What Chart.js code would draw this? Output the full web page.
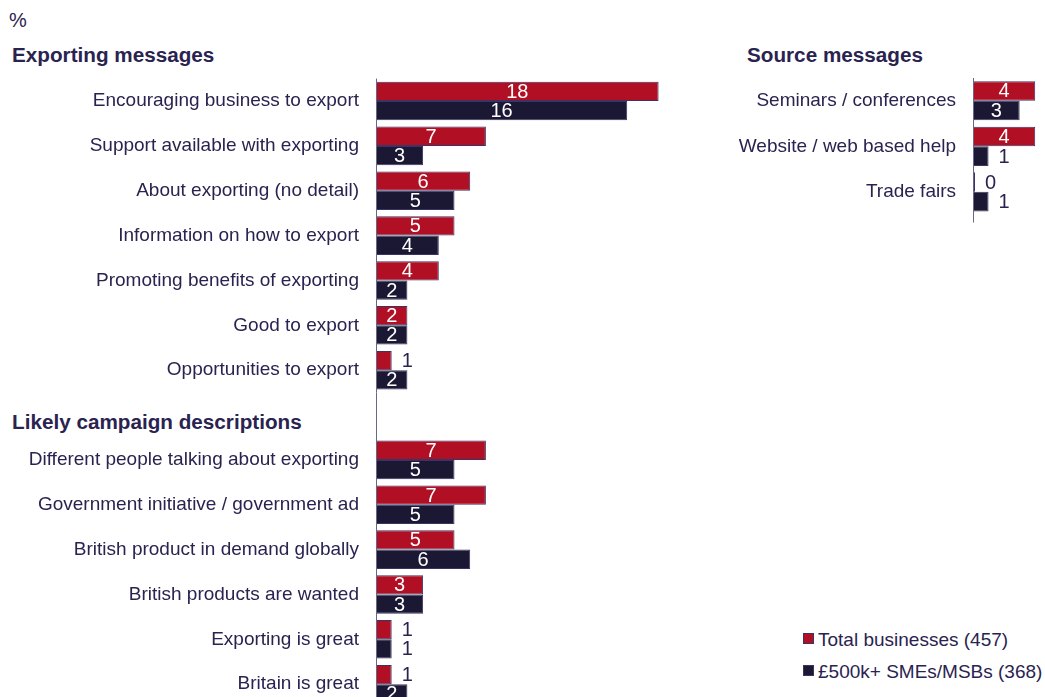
<!DOCTYPE html>
<html>
<head>
<meta charset="utf-8">
<script src="https://cdn.jsdelivr.net/npm/chart.js@4.4.1/dist/chart.umd.min.js"></script>
<style>
  html, body { margin: 0; padding: 0; background: #fff; overflow: hidden; }
  body { width: 1045px; height: 697px; position: relative; font-family: "Liberation Sans", Arial, sans-serif; color: #2a2350; }
  .txt { position: absolute; white-space: nowrap; line-height: 1; }
  .head { font-weight: bold; font-size: 20.7px; }
  #chart-left { position: absolute; left: 0; top: 0; }
  #chart-right { position: absolute; left: 720px; top: 0; }
  .legend-item { position: absolute; left: 803px; font-size: 19px; line-height: 1; white-space: nowrap; }
  .legend-item .box { display: inline-block; width: 9px; height: 9px; border: 1px solid #3b3366; margin-right: 4px; vertical-align: 2px; }
</style>
</head>
<body>

<div class="txt" style="left:9px; top:10px; font-size:20px;">%</div>
<div class="txt head" style="left:12px; top:45px;">Exporting messages</div>
<div class="txt head" style="left:12px; top:412px;">Likely campaign descriptions</div>
<div class="txt head" style="left:747px; top:45px;">Source messages</div>

<canvas id="chart-left" width="700" height="735"></canvas>
<canvas id="chart-right" width="325" height="243"></canvas>
<div id="legend"></div>

<script>
// ---- data ----
const exportCats = [
  'Encouraging business to export',
  'Support available with exporting',
  'About exporting (no detail)',
  'Information on how to export',
  'Promoting benefits of exporting',
  'Good to export',
  'Opportunities to export'
];
const campaignCats = [
  'Different people talking about exporting',
  'Government initiative / government ad',
  'British product in demand globally',
  'British products are wanted',
  'Exporting is great',
  'Britain is great'
];
const sourceCats = ['Seminars / conferences', 'Website / web based help', 'Trade fairs'];

const totalExport = [18, 7, 6, 5, 4, 2, 1];
const smeExport = [16, 3, 5, 4, 2, 2, 2];
const totalCampaign = [7, 7, 5, 3, 1, 1];
const smeCampaign = [5, 5, 6, 3, 1, 2];
const totalSource = [4, 4, 0];
const smeSource = [3, 1, 1];

const seriesNames = ['Total businesses (457)', '£500k+ SMEs/MSBs (368)'];
const seriesColors = ['#b00f24', '#1b1833'];

const TEXT = '#2a2350';
const FONT = '"Liberation Sans", Arial, sans-serif';

// numbers on the bars: white inside, dark just past the end for tiny bars
const valueLabels = {
  id: 'valueLabels',
  afterDatasetsDraw(chart) {
    const ctx = chart.ctx;
    ctx.save();
    ctx.font = '20px ' + FONT;
    ctx.textBaseline = 'middle';
    chart.data.datasets.forEach((ds, i) => {
      chart.getDatasetMeta(i).data.forEach((bar, j) => {
        const v = ds.data[j];
        if (v === null || v === undefined) return;
        if (v >= 2) {
          ctx.fillStyle = '#fff';
          ctx.textAlign = 'center';
          ctx.fillText(v, (bar.x + bar.base) / 2, bar.y + 1);
        } else {
          ctx.fillStyle = TEXT;
          ctx.textAlign = 'left';
          ctx.fillText(v, bar.x + 10, bar.y + 1);
        }
      });
    });
    ctx.restore();
  }
};

// vertical axis line at zero
const axisLine = {
  id: 'axisLine',
  afterDraw(chart, args, opts) {
    const { ctx, chartArea } = chart;
    ctx.save();
    ctx.strokeStyle = '#6a6688';
    ctx.lineWidth = 1;
    ctx.beginPath();
    ctx.moveTo(chartArea.left + 0.5, chartArea.top);
    ctx.lineTo(chartArea.left + 0.5, chartArea.bottom + (opts.extra || 0));
    ctx.stroke();
    ctx.restore();
  }
};

function makeDatasets(a, b) {
  return [a, b].map((d, i) => ({
    label: seriesNames[i],
    data: d,
    backgroundColor: seriesColors[i],
    borderColor: '#3b3366',
    borderWidth: 1,
    minBarLength: 2,
    categoryPercentage: 0.86,
    barPercentage: 1
  }));
}

function barOptions(axisWidth, xMax, padding, extra) {
  return {
    indexAxis: 'y',
    responsive: false,
    animation: false,
    layout: { padding },
    scales: {
      x: { display: false, min: 0, max: xMax },
      y: {
        afterFit: s => { s.width = axisWidth; },
        border: { display: false },
        grid: { display: false, drawTicks: false },
        ticks: { color: TEXT, font: { family: FONT, size: 19 }, padding: 17, autoSkip: false }
      }
    },
    plugins: {
      legend: { display: false },
      tooltip: { enabled: false },
      axisLine: { extra }
    }
  };
}

new Chart(document.getElementById('chart-left'), {
  type: 'bar',
  data: {
    labels: [...exportCats, '', ...campaignCats],
    datasets: makeDatasets(
      [...totalExport, null, ...totalCampaign],
      [...smeExport, null, ...smeCampaign]
    )
  },
  options: barOptions(376, 20, { top: 78.6, bottom: 15, right: 10 }, 0),
  plugins: [valueLabels, axisLine]
});

new Chart(document.getElementById('chart-right'), {
  type: 'bar',
  data: {
    labels: sourceCats,
    datasets: makeDatasets(totalSource, smeSource)
  },
  options: barOptions(253, 4.5, { top: 78, bottom: 27, right: 2 }, 8),
  plugins: [valueLabels, axisLine]
});

// legend
const legend = document.getElementById('legend');
seriesNames.forEach((name, i) => {
  const item = document.createElement('div');
  item.className = 'legend-item';
  item.style.top = (630 + i * 32) + 'px';
  item.innerHTML = '<span class="box" style="background:' + seriesColors[i] + '"></span>' + name;
  legend.appendChild(item);
});
</script>
</body>
</html>
